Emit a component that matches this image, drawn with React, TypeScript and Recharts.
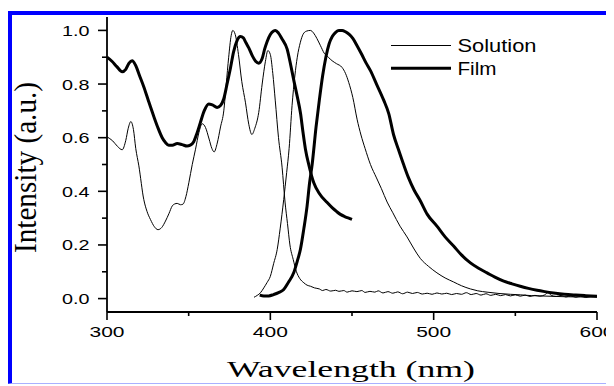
import { LineChart, Line, XAxis, YAxis } from 'recharts';

// wavelength (nm), normalised intensity
const solutionAbs: [number, number][] = [
  [300, 0.603], [303.5, 0.588], [306.5, 0.567], [309.3, 0.555], [311.5, 0.59], [313, 0.635],
  [314.6, 0.66], [316.2, 0.63], [317.6, 0.56], [319.5, 0.495], [322.5, 0.37], [324.5, 0.325],
  [326.6, 0.295], [329, 0.268], [331.2, 0.257], [333.5, 0.265], [335.8, 0.289], [338, 0.318],
  [339.9, 0.345], [341.5, 0.353], [343, 0.355], [345, 0.35], [346.5, 0.352], [348.3, 0.38],
  [350.1, 0.432], [352.2, 0.5], [354.2, 0.557], [356.3, 0.62], [358.3, 0.652], [360.3, 0.638],
  [362.5, 0.595], [364.2, 0.56], [365.6, 0.547], [367.5, 0.58], [369.5, 0.64], [371.5, 0.7],
  [373, 0.8], [374.5, 0.9], [376, 0.98], [377, 1.0], [378.5, 0.985], [380.5, 0.91], [382.5, 0.81],
  [384.8, 0.73], [386.8, 0.65], [388.7, 0.612], [390.5, 0.635], [392.9, 0.694], [395, 0.8],
  [397, 0.885], [398.5, 0.925], [400, 0.91], [401.5, 0.84], [403, 0.74], [405, 0.6], [407.2, 0.49],
  [409, 0.36], [410.5, 0.28], [412, 0.2], [414, 0.146], [416, 0.1], [418, 0.075], [420.5, 0.059],
  [422.5, 0.05], [424.6, 0.046], [427, 0.04], [430, 0.036], [432, 0.03], [434, 0.034], [437, 0.028],
  [440, 0.031], [442, 0.027], [445, 0.03], [447, 0.024], [450, 0.029], [453, 0.026], [456, 0.03],
  [458, 0.023], [461, 0.027], [464, 0.024], [466, 0.029], [469, 0.021], [472, 0.026], [475, 0.02],
  [478, 0.025], [481, 0.018], [484, 0.024], [487, 0.019], [490, 0.023], [493, 0.017], [496, 0.02],
  [499, 0.016], [502, 0.021], [505, 0.017], [508, 0.02], [511, 0.015], [514, 0.019], [517, 0.016],
  [520, 0.022], [523, 0.015], [526, 0.019], [529, 0.013], [532, 0.018], [535, 0.012], [538, 0.016],
  [541, 0.011], [544, 0.015], [547, 0.01], [550, 0.014], [553, 0.009], [556, 0.013], [559, 0.008],
  [562, 0.012], [565, 0.009], [568, 0.014], [570, 0.022], [572, 0.012], [575, 0.008], [578, 0.012],
  [581, 0.006], [584, 0.01], [587, 0.005], [590, 0.009], [593, 0.004], [596, 0.008], [600, 0.006],
];

const solutionPL: [number, number][] = [
  [390, 0.005], [392, 0.012], [394, 0.022], [396, 0.04], [398, 0.06], [400, 0.083], [402, 0.13],
  [404.2, 0.183], [406, 0.26], [408.2, 0.37], [410, 0.47], [411.5, 0.56], [413.3, 0.72], [415, 0.83],
  [416.5, 0.9], [418.4, 0.956], [420, 0.985], [422, 0.997], [424.5, 1.0], [426.5, 0.99], [428.5, 0.97],
  [430.7, 0.943], [433, 0.915], [435.5, 0.9], [437.8, 0.887], [440.5, 0.876], [443.9, 0.862],
  [446, 0.84], [448, 0.806], [450.5, 0.75], [453.1, 0.669], [455.5, 0.61], [458, 0.56], [461.3, 0.5],
  [465, 0.45], [468, 0.41], [471.5, 0.36], [475, 0.32], [479.4, 0.27], [483.7, 0.23], [488, 0.185],
  [491.8, 0.15], [496.9, 0.12], [502, 0.096], [507, 0.077], [512.2, 0.062], [517, 0.048],
  [522.5, 0.036], [527, 0.029], [532.7, 0.024], [540, 0.019], [547, 0.016], [553, 0.014],
  [560, 0.011], [570, 0.009], [580, 0.007], [590, 0.006], [600, 0.006],
];

const filmAbs: [number, number][] = [
  [300, 0.9], [303, 0.885], [306, 0.865], [309.3, 0.846], [311.5, 0.855], [313.5, 0.878],
  [315.4, 0.887], [317.5, 0.87], [320, 0.83], [322.5, 0.79], [325.5, 0.735], [328.6, 0.68],
  [331, 0.64], [333.8, 0.6], [335.8, 0.582], [337.8, 0.572], [340, 0.572], [343, 0.578], [346, 0.574],
  [349, 0.569], [351, 0.572], [353.1, 0.585], [355, 0.615], [357.2, 0.657], [359.5, 0.7],
  [362.3, 0.726], [364.5, 0.722], [367.4, 0.713], [369.5, 0.72], [371.5, 0.745], [373.5, 0.8],
  [375.6, 0.86], [377.5, 0.92], [379.5, 0.96], [381.7, 0.977], [383.5, 0.972], [385, 0.955],
  [386.8, 0.935], [389, 0.905], [391, 0.885], [392.9, 0.878], [395, 0.895], [396.5, 0.93],
  [398, 0.958], [400, 0.985], [402, 0.998], [403.1, 1.0], [405, 0.99], [407, 0.97], [410.3, 0.93],
  [412.5, 0.87], [414.5, 0.81], [416.4, 0.756], [418.5, 0.69], [420, 0.62], [421.5, 0.557],
  [423.5, 0.5], [426.6, 0.432], [430, 0.392], [434.8, 0.358], [438, 0.338], [440.5, 0.325],
  [442.9, 0.314], [445.5, 0.306], [448, 0.3], [450, 0.295],
];

const filmPL: [number, number][] = [
  [393.5, 0.013], [396, 0.01], [399, 0.01], [402, 0.015], [405, 0.022], [408.2, 0.034], [411, 0.06],
  [414.3, 0.096], [416.5, 0.14], [418.4, 0.183], [420.5, 0.26], [422.5, 0.345], [424, 0.43],
  [425.6, 0.5], [428, 0.64], [430, 0.74], [432, 0.83], [434, 0.9], [436, 0.95], [438, 0.978],
  [440, 0.993], [442, 1.0], [444, 1.0], [446, 0.995], [448.3, 0.985], [450.5, 0.97], [453.1, 0.943],
  [456, 0.91], [458.5, 0.88], [461.3, 0.85], [465, 0.8], [469.4, 0.74], [472.5, 0.69], [475.5, 0.61],
  [478.5, 0.555], [481.6, 0.5], [484.5, 0.452], [488, 0.405], [491.8, 0.365], [496, 0.315],
  [502, 0.27], [507, 0.23], [512.2, 0.196], [517, 0.163], [522.5, 0.133], [527.5, 0.113],
  [532.7, 0.096], [537.5, 0.08], [542.9, 0.065], [548, 0.055], [553, 0.046], [558, 0.038],
  [563.3, 0.031], [568, 0.026], [573.4, 0.021], [580, 0.016], [587, 0.013], [593, 0.011], [600, 0.009],
];

const xMajorTicks = [300, 400, 500, 600];
const xMinorTicks = [350, 450, 550];
const yMajorTicks = [0, 0.2, 0.4, 0.6, 0.8, 1.0];
const yMinorTicks = [0.1, 0.3, 0.5, 0.7, 0.9];

const legendItems = [
  { name: 'Solution', width: 1 },
  { name: 'Film', width: 3 },
];

const toPoints = (arr: [number, number][]) => arr.map(([x, y]) => ({ x, y }));

const W = 614;
const H = 386;
const PLOT_LEFT = 107;
const PLOT_BOTTOM = 312;

const tickFont = '"Liberation Sans", Arial, sans-serif';
const titleFont = '"Liberation Serif", "Times New Roman", serif';

const YTick = (props: any) => {
  const { y, payload } = props;
  const major = yMajorTicks.includes(payload.value);
  return (
    <g>
      <line x1={PLOT_LEFT - (major ? 9 : 5)} x2={PLOT_LEFT} y1={y} y2={y} stroke="#000" strokeWidth={1.6} />
      {major && (
        <text x={89.5} y={y + 5.5} textAnchor="end" fontFamily={tickFont} fontSize={15} fill="#000"
          textLength={27.5} lengthAdjust="spacingAndGlyphs">
          {payload.value.toFixed(1)}
        </text>
      )}
    </g>
  );
};

const XTick = (props: any) => {
  const { x, payload } = props;
  const major = xMajorTicks.includes(payload.value);
  return (
    <g>
      <line x1={x} x2={x} y1={PLOT_BOTTOM} y2={PLOT_BOTTOM + (major ? 8 : 4)} stroke="#000" strokeWidth={1.6} />
      {major && (
        <text x={x} y={337} textAnchor="middle" fontFamily={tickFont} fontSize={15} fill="#000"
          textLength={35} lengthAdjust="spacingAndGlyphs">
          {payload.value}
        </text>
      )}
    </g>
  );
};

export default function App() {
  return (
    <div style={{ position: 'relative', width: W, height: H, margin: '-8px 0 0 -8px', overflow: 'hidden', background: '#fff' }}>
      <LineChart width={W} height={H} margin={{ top: 17, right: 17, bottom: 0, left: 0 }}>
        <XAxis
          type="number"
          dataKey="x"
          domain={[300, 600]}
          ticks={[...xMajorTicks, ...xMinorTicks].sort((a, b) => a - b)}
          interval={0}
          allowDataOverflow
          height={74}
          axisLine={{ stroke: '#000', strokeWidth: 1.8 }}
          tickLine={false}
          tick={<XTick />}
        />
        <YAxis
          type="number"
          domain={[-0.05, 1.05]}
          ticks={[...yMajorTicks, ...yMinorTicks].sort((a, b) => a - b)}
          interval={0}
          allowDataOverflow
          width={107}
          axisLine={{ stroke: '#000', strokeWidth: 1.8 }}
          tickLine={false}
          tick={<YTick />}
        />
        <Line data={toPoints(solutionAbs)} dataKey="y" type="monotone" stroke="#000" strokeWidth={1}
          dot={false} activeDot={false} isAnimationActive={false} />
        <Line data={toPoints(solutionPL)} dataKey="y" type="monotone" stroke="#000" strokeWidth={1}
          dot={false} activeDot={false} isAnimationActive={false} />
        <Line data={toPoints(filmAbs)} dataKey="y" type="monotone" stroke="#000" strokeWidth={3}
          dot={false} activeDot={false} isAnimationActive={false} />
        <Line data={toPoints(filmPL)} dataKey="y" type="monotone" stroke="#000" strokeWidth={3}
          dot={false} activeDot={false} isAnimationActive={false} />
      </LineChart>

      <svg width={W} height={H} style={{ position: 'absolute', left: 0, top: 0, pointerEvents: 'none' }}>
        {legendItems.map((item, i) => (
          <g key={item.name}>
            <line x1={391} x2={451} y1={45.5 + i * 22.8} y2={45.5 + i * 22.8} stroke="#000" strokeWidth={item.width} />
            <text x={457.5} y={52 + i * 23} fontFamily={tickFont} fontSize={18} fill="#000"
              textLength={item.name === 'Solution' ? 79 : 39} lengthAdjust="spacingAndGlyphs">
              {item.name}
            </text>
          </g>
        ))}
        <text x={351} y={377} textAnchor="middle" fontFamily={titleFont} fontSize={23} fill="#000"
          textLength={248} lengthAdjust="spacingAndGlyphs">
          Wavelength (nm)
        </text>
        <text x={36} y={167.5} transform="rotate(-90 36 167.5)" textAnchor="middle" fontFamily={titleFont}
          fontSize={31} fill="#000" textLength={171} lengthAdjust="spacingAndGlyphs">
          Intensity (a.u.)
        </text>
      </svg>

      <div style={{
        position: 'absolute', left: 7, top: 11, width: 606, height: 373, boxSizing: 'border-box',
        borderLeft: '5px solid #0000ff', borderTop: '4px solid #0000ff', borderRight: '4px solid #0000ff',
        borderBottom: '1px solid #aab0ff', pointerEvents: 'none',
      }} />
    </div>
  );
}
